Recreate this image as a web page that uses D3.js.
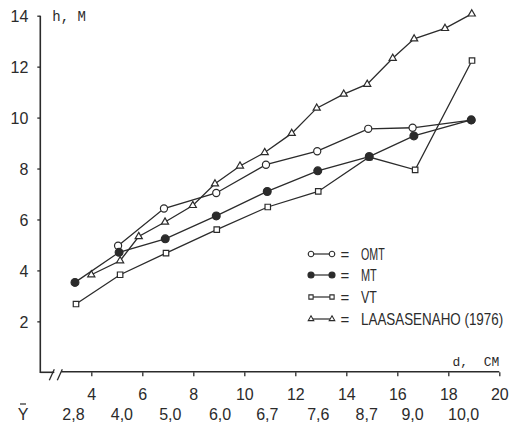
<!DOCTYPE html>
<html>
<head>
<meta charset="utf-8">
<script src="https://cdn.jsdelivr.net/npm/d3@7"></script>
<style>
  html, body { margin: 0; padding: 0; background: #fff; }
  svg { display: block; }
  text { fill: #2b2b2b; }
</style>
</head>
<body>
<svg id="chart" width="510" height="422"></svg>
<script>
// Height (h, m) against diameter (d, cm) by forest site type
const omtD = [5.05, 6.85, 8.9, 10.85, 12.86, 14.86, 16.6, 18.9];
const omtH = [4.97, 6.43, 7.04, 8.15, 8.68, 9.56, 9.6, 9.9];

const mtD = [3.36, 5.09, 6.9, 8.9, 10.9, 12.88, 14.9, 16.65, 18.9];
const mtH = [3.53, 4.71, 5.24, 6.14, 7.1, 7.91, 8.47, 9.28, 9.91];

const vtD = [3.4, 5.13, 6.93, 8.92, 10.92, 12.9, 14.9, 16.7, 18.93];
const vtH = [2.68, 3.83, 4.68, 5.6, 6.49, 7.1, 8.45, 7.95, 12.24];

const laD = [4, 5.13, 5.86, 6.89, 7.98, 8.85, 9.83, 10.8, 11.86, 12.84, 13.9, 14.82, 15.82, 16.66, 17.87, 18.92];
const laH = [3.83, 4.38, 5.33, 5.9, 6.55, 7.4, 8.1, 8.63, 9.38, 10.37, 10.92, 11.31, 12.33, 13.09, 13.5, 14.07];

// Mean values (Ŷ) written under the diameter classes
const yHatLabels = ["2,8", "4,0", "5,0", "6,0", "6,7", "7,6", "8,7", "9,0", "10,0"];
const yHatAt = [3.3, 5.2, 7.1, 9.05, 10.9, 12.9, 14.8, 16.6, 18.6];

const xTicks = [4, 6, 8, 10, 12, 14, 16, 18, 20];
const yTicks = [2, 4, 6, 8, 10, 12, 14];

const legendNames = ["OMT", "MT", "VT", "LAASASENAHO (1976)"];

const ink = "#2b2b2b";
const svg = d3.select("#chart");

const x = d3.scaleLinear().domain([2, 20]).range([40.3, 499.3]);
const y = d3.scaleLinear().domain([0, 14]).range([372.3, 15.7]);

const numFont = "'Liberation Sans', Arial, sans-serif";
const monoFont = "'Liberation Mono', 'DejaVu Sans Mono', monospace";

// ---- axes ----
const yAxis = svg.append("g")
  .attr("transform", `translate(${x(2)},0)`)
  .call(d3.axisLeft(y).tickValues(yTicks).tickSize(3).tickSizeOuter(0).tickFormat(d3.format("d")));
yAxis.select(".domain").remove();
yAxis.selectAll(".tick line").attr("stroke", ink).attr("stroke-width", 1.3);
yAxis.selectAll(".tick text")
  .attr("x", -12).attr("dy", "0.36em")
  .style("font-family", numFont).style("font-size", "16px").attr("fill", ink);

const xAxis = svg.append("g")
  .attr("transform", `translate(0,${y(0)})`)
  .call(d3.axisBottom(x).tickValues(xTicks).tickSize(4).tickSizeOuter(0).tickFormat(d3.format("d")));
xAxis.select(".domain").remove();
xAxis.selectAll(".tick line").attr("stroke", ink).attr("stroke-width", 1.3);
xAxis.selectAll(".tick text")
  .attr("y", 0).attr("dy", 0).attr("transform", "translate(0,28)")
  .style("font-family", numFont).style("font-size", "16px").attr("fill", ink);

// axis lines, the horizontal one broken near the origin
const axisG = svg.append("g").attr("stroke", ink).attr("stroke-width", 1.6).attr("fill", "none");
axisG.append("line").attr("x1", x(2)).attr("x2", x(2)).attr("y1", y(14)).attr("y2", y(0) + 0.8);
axisG.append("line").attr("x1", x(2)).attr("x2", x(2) + 14).attr("y1", y(0)).attr("y2", y(0));
axisG.append("line").attr("x1", x(2) + 21).attr("x2", x(20)).attr("y1", y(0) - 0.5).attr("y2", y(0) - 0.5);
axisG.append("line").attr("x1", x(2) + 9).attr("y1", y(0) + 8).attr("x2", x(2) + 14).attr("y2", y(0) - 3).attr("stroke-width", 1.3);
axisG.append("line").attr("x1", x(2) + 17).attr("y1", y(0) + 8).attr("x2", x(2) + 22).attr("y2", y(0) - 3).attr("stroke-width", 1.3);

// axis titles
svg.append("text").attr("x", x(2) + 12).attr("y", 21)
  .style("font-family", monoFont).style("font-size", "14px").style("white-space", "pre")
  .text("h, M");
svg.append("text").attr("x", x(20)).attr("y", 366).attr("text-anchor", "end")
  .style("font-family", monoFont).style("font-size", "13px").style("white-space", "pre")
  .text("d,  CM");

// Ŷ row
const yHatG = svg.append("g").style("font-family", numFont).style("font-size", "16px");
yHatG.append("text").attr("x", 23).attr("y", 420).attr("text-anchor", "middle").text("Y");
yHatG.append("line").attr("x1", 20).attr("x2", 26).attr("y1", 404).attr("y2", 404)
  .attr("stroke", ink).attr("stroke-width", 1.2);
yHatG.selectAll("text.yhat").data(yHatLabels).join("text")
  .attr("class", "yhat")
  .attr("x", (d, i) => x(yHatAt[i]))
  .attr("y", 420)
  .attr("text-anchor", "middle")
  .text(d => d);

// ---- series ----
const series = [
  { name: legendNames[3], d: laD, h: laH, shape: "triangle", fill: "#fff" },
  { name: legendNames[2], d: vtD, h: vtH, shape: "square", fill: "#fff" },
  { name: legendNames[0], d: omtD, h: omtH, shape: "circle", fill: "#fff" },
  { name: legendNames[1], d: mtD, h: mtH, shape: "circle", fill: ink }
];

const symbolFor = (shape, filled, k = 1) => {
  if (shape === "triangle") return d3.symbol().type(d3.symbolTriangle).size(22 * k)();
  if (shape === "square") return d3.symbol().type(d3.symbolSquare).size(30 * k)();
  return d3.symbol().type(d3.symbolCircle).size((filled ? 48 : 40) * k)();
};

const line = d3.line().x(p => x(p[0])).y(p => y(p[1]));

series.forEach(s => {
  const pts = s.d.map((d, i) => [d, s.h[i]]);
  svg.append("path").datum(pts)
    .attr("d", line).attr("fill", "none")
    .attr("stroke", ink).attr("stroke-width", 1.3);
});
series.forEach(s => {
  const pts = s.d.map((d, i) => [d, s.h[i]]);
  svg.append("g").selectAll("path").data(pts).join("path")
    .attr("transform", p => `translate(${x(p[0])},${y(p[1])})`)
    .attr("d", symbolFor(s.shape, s.fill !== "#fff"))
    .attr("fill", s.fill).attr("stroke", ink).attr("stroke-width", 1.2);
});

// ---- legend ----
const legendRows = [
  { name: legendNames[0], shape: "circle", fill: "#fff", yy: 254 },
  { name: legendNames[1], shape: "circle", fill: ink, yy: 275 },
  { name: legendNames[2], shape: "square", fill: "#fff", yy: 297 },
  { name: legendNames[3], shape: "triangle", fill: "#fff", yy: 319 }
];
const lg = svg.append("g");
legendRows.forEach(r => {
  const g = lg.append("g").attr("transform", `translate(0,${r.yy})`);
  g.append("line").attr("x1", 311).attr("x2", 332).attr("y1", 0).attr("y2", 0)
    .attr("stroke", ink).attr("stroke-width", 1.2);
  [311, 332].forEach(px => {
    g.append("path").attr("transform", `translate(${px},0)`)
      .attr("d", symbolFor(r.shape, r.fill !== "#fff", 0.6))
      .attr("fill", r.fill).attr("stroke", ink).attr("stroke-width", 1.1);
  });
  g.append("text").attr("x", 345).attr("y", 5.5).attr("text-anchor", "middle")
    .style("font-family", numFont).style("font-size", "15px").text("=");
  // condensed label: squeeze the text horizontally to the narrow lettering
  const tg = g.append("g");
  const t = tg.append("text").attr("x", 0).attr("y", 0)
    .style("font-family", numFont).style("font-size", "16px")
    .text(r.name);
  const natural = t.node().getComputedTextLength();
  const sx = (r.name.length * 7.9) / natural;
  tg.attr("transform", `translate(361,6) scale(${sx},1)`);
});
</script>
</body>
</html>
